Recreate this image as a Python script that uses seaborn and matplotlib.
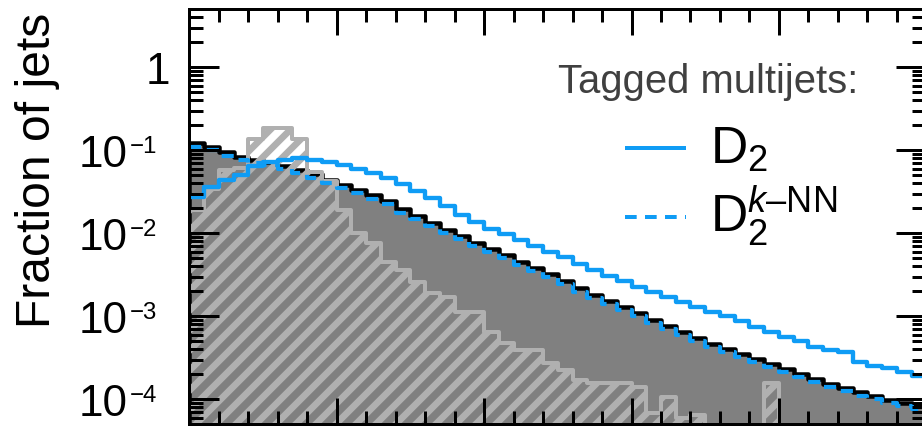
import numpy as np
import matplotlib
matplotlib.use("Agg")
import matplotlib.pyplot as plt
import matplotlib.ticker as mticker
import matplotlib.transforms as mtransforms
from matplotlib.lines import Line2D
import seaborn as sns

# 50 equal-width bins of the jet observable
bin_edges = list(range(0, 51))
bin_centers = [e + 0.5 for e in bin_edges[:-1]]

# Fraction of jets per bin
multijet_frac = [0.122, 0.110, 0.0954, 0.0831, 0.0764, 0.0723, 0.0647, 0.0579, 0.0518, 0.0439,
                 0.0382, 0.0332, 0.0289, 0.0245, 0.0196, 0.0162, 0.0133, 0.0110, 0.00928, 0.00764,
                 0.00647, 0.00548, 0.00451, 0.00382, 0.00323, 0.00266, 0.00219, 0.00181, 0.00153, 0.00129,
                 0.00110, 0.000902, 0.000764, 0.000647, 0.000548, 0.000464, 0.000404, 0.000351, 0.000306, 0.000266,
                 0.000232, 0.000202, 0.000176, 0.000153, 0.000137, 0.000122, 0.000110, 0.0000981, 0.0000902, 0.0000830]

signal_frac = [0.0191, 0.0342, 0.0579, 0.0612, 0.137, 0.186, 0.186, 0.137, 0.0548, 0.0427,
               0.0191, 0.0101, 0.00764, 0.00451, 0.00361, 0.00259, 0.00191, 0.00171, 0.00113, 0.00113,
               0.000647, 0.000477, 0.000393, 0.000393, 0.000274, 0.000225, 0.000171, 0.000157, 0.000157, 0.000157,
               0.000141, 0.0000684, 0.000107, 0.0000595, 0.0000647, 0.0, 0.0, 0.0, 0.0, 0.000157,
               0.0, 0.0, 0.0, 0.0, 0.0, 0.0, 0.0, 0.0, 0.0, 0.0]

d2_frac = [0.0274, 0.0361, 0.0439, 0.0504, 0.0647, 0.0723, 0.0764, 0.0808, 0.0764, 0.0723,
           0.0665, 0.0595, 0.0533, 0.0464, 0.0393, 0.0323, 0.0266, 0.0213, 0.0166, 0.0137,
           0.0113, 0.00981, 0.00830, 0.00703, 0.00595, 0.00518, 0.00427, 0.00361, 0.00306, 0.00266,
           0.00225, 0.00196, 0.00171, 0.00149, 0.00129, 0.00113, 0.00101, 0.000878, 0.000743, 0.000647,
           0.000563, 0.000504, 0.000427, 0.000393, 0.000371, 0.000281, 0.000252, 0.000238, 0.000213, 0.000191]

d2_knn_frac = [0.110, 0.100, 0.0862, 0.0760, 0.0700, 0.0660, 0.0590, 0.0528, 0.0470, 0.0400,
               0.0350, 0.0302, 0.0262, 0.0224, 0.0178, 0.0147, 0.0121, 0.0100, 0.00845, 0.00695,
               0.00590, 0.00500, 0.00410, 0.00348, 0.00294, 0.00243, 0.00199, 0.00165, 0.00139, 0.00118,
               0.00100, 0.000820, 0.000695, 0.000590, 0.000500, 0.000422, 0.000368, 0.000320, 0.000278, 0.000242,
               0.000211, 0.000184, 0.000160, 0.000139, 0.000125, 0.000111, 0.0000998, 0.0000893, 0.0000821, 0.0000755]

y_tick_values = [1, 1e-1, 1e-2, 1e-3, 1e-4]
y_tick_exponents = ["", "\u22121", "\u22122", "\u22123", "\u22124"]

legend_title = "Tagged multijets:"
legend_labels = ["D$_\\mathregular{2}$",
                 "D$_\\mathregular{2}^{\\mathit{k}\\mathregular{\u2013NN}}$"]

BLUE = "#0f9cf5"
DARK_FILL = "#808080"
LIGHT_GRAY = "#b0b0b0"

sns.set_theme(style="white")
plt.rcParams["font.family"] = ["Liberation Sans", "DejaVu Sans"]
plt.rcParams["mathtext.fontset"] = "custom"
plt.rcParams["mathtext.rm"] = "Liberation Sans"
plt.rcParams["mathtext.it"] = "Liberation Sans:italic"
plt.rcParams["mathtext.bf"] = "Liberation Sans:bold"
plt.rcParams["hatch.linewidth"] = 4.0

DPI = 120
W, H = 922, 429
fig = plt.figure(figsize=(W / DPI, H / DPI), dpi=DPI, facecolor="white")
ax = fig.add_axes([189.3 / W, 4.7 / H, 737 / W, 415 / H])
ax.set_facecolor("white")


def fx(px):
    return px / W


def fy(py):
    return 1 - py / H


hist_kws = dict(binwidth=1, binrange=(bin_edges[0], bin_edges[-1]), element="step", ax=ax)

# background multijets: solid grey with black outline
sns.histplot(x=bin_centers, weights=multijet_frac, fill=True, color=DARK_FILL,
             facecolor=DARK_FILL, edgecolor="black", linewidth=2.7, alpha=1, zorder=1, **hist_kws)
# hatched reference distribution
sns.histplot(x=bin_centers, weights=signal_frac, fill=True, color=LIGHT_GRAY,
             facecolor="none", edgecolor=LIGHT_GRAY, linewidth=2.4, hatch="//", zorder=1.2, **hist_kws)
# tagged multijets, D2 k-NN (dashed)
sns.histplot(x=bin_centers, weights=d2_knn_frac, fill=False,
             color=BLUE, linewidth=2.5, linestyle=(0, (2.9, 2.1)), zorder=2, **hist_kws)
# tagged multijets, D2 (solid)
sns.histplot(x=bin_centers, weights=d2_frac, fill=False,
             color=BLUE, linewidth=2.6, zorder=2.1, **hist_kws)

ax.set_yscale("log")
ax.set_xlim(0, 50)
ax.set_ylim(5e-5, 5)
ax.set_xlabel("")
ax.set_ylabel("")

ax.xaxis.set_major_locator(mticker.MultipleLocator(10))
ax.xaxis.set_minor_locator(mticker.MultipleLocator(2))
ax.yaxis.set_major_locator(mticker.LogLocator(base=10, numticks=20))
ax.yaxis.set_minor_locator(mticker.LogLocator(base=10, subs=np.arange(2, 10), numticks=20))
ax.yaxis.set_minor_formatter(mticker.NullFormatter())
ax.tick_params(which="both", direction="in", top=True, right=True, bottom=True, left=True,
               labelbottom=False, labelleft=False, width=1.8, color="black")
ax.tick_params(axis="x", which="major", length=15.6)
ax.tick_params(axis="x", which="minor", length=7.8)
ax.tick_params(axis="y", which="major", length=18)
ax.tick_params(axis="y", which="minor", length=8.4)
ax.set_axisbelow(False)
for sp in ax.spines.values():
    sp.set_linewidth(1.8)
    sp.set_color("black")
    sp.set_zorder(5)

# y tick labels as 10^n
label_tf = mtransforms.blended_transform_factory(fig.transFigure, ax.transData)
base_tf = mtransforms.offset_copy(label_tf, fig=fig, x=0, y=-17, units="dots")
exp_tf = mtransforms.offset_copy(label_tf, fig=fig, x=0, y=-2.5, units="dots")
for val, exp in zip(y_tick_values, y_tick_exponents):
    if exp:
        ax.text(fx(128), val, "10", transform=base_tf, ha="right", va="baseline",
                fontsize=26.4, color="black")
        ax.text(fx(130), val, exp, transform=exp_tf, ha="left", va="baseline",
                fontsize=14.4, color="black")
    else:
        ax.text(fx(170), val, "1", transform=base_tf, ha="right", va="baseline",
                fontsize=26.4, color="black")

fig.text(fx(50), fy(328), "Fraction of jets", rotation=90, rotation_mode="anchor",
         ha="left", va="baseline", fontsize=28.8, color="black")

# legend
fig.text(fx(558), fy(93), legend_title, ha="left", va="baseline",
         fontsize=24, color="#404040")
fig.add_artist(Line2D([fx(625), fx(686)], [fy(148.3)] * 2, transform=fig.transFigure,
                      color=BLUE, lw=2.4, solid_capstyle="butt"))
fig.text(fx(710), fy(163.5), legend_labels[0], ha="left", va="baseline", fontsize=31, color="black")

fig.add_artist(Line2D([fx(625), fx(686)], [fy(216.7)] * 2, transform=fig.transFigure,
                      color=BLUE, lw=2.4, linestyle=(0, (2.92, 2.08)), dash_capstyle="butt"))
fig.text(fx(710), fy(231.7), legend_labels[1], ha="left", va="baseline", fontsize=31, color="black")

fig.savefig("out.png", dpi=DPI, facecolor="white")
